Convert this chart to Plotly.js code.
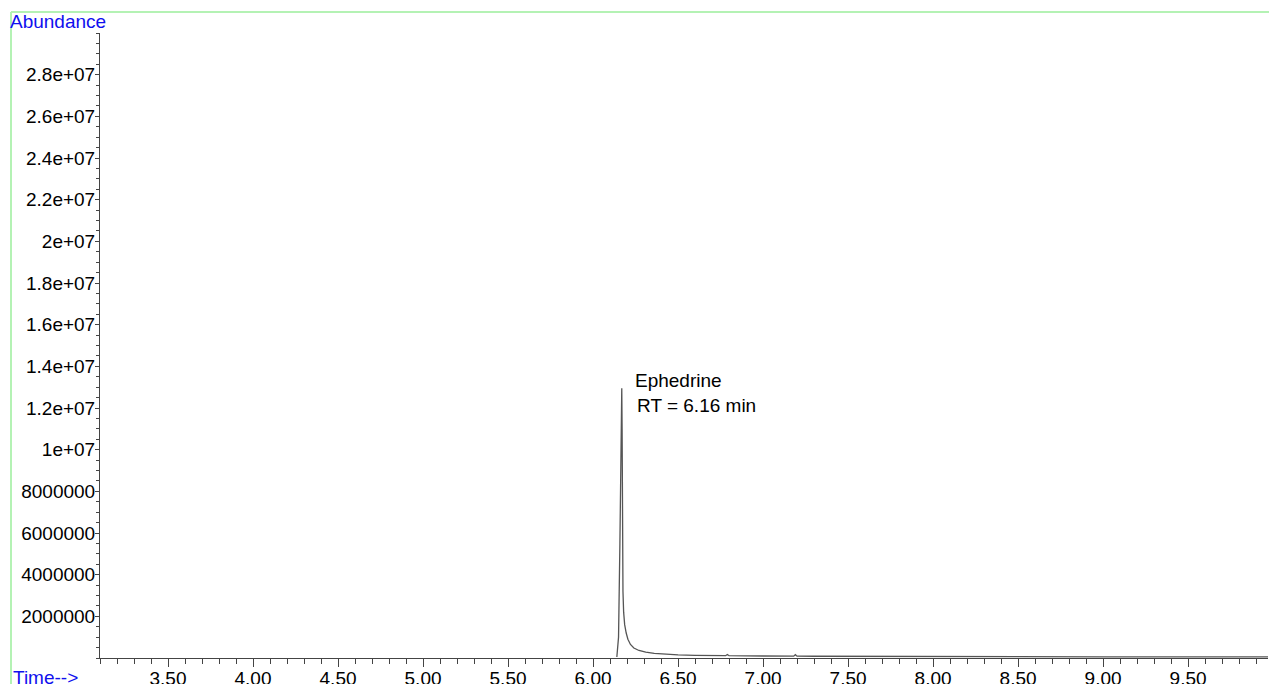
<!DOCTYPE html>
<html>
<head>
<meta charset="utf-8">
<script src="https://cdn.plot.ly/plotly-3.0.1.min.js"></script>
<style>
html,body{margin:0;padding:0;background:#fff;}
#chart{width:1269px;height:684px;}
</style>
</head>
<body>
<div id="chart"></div>
<script>
// Retention time (min)
const timeMin = [6.140, 6.150, 6.158, 6.163, 6.167, 6.169, 6.171, 6.173, 6.176, 6.180, 6.186, 6.195, 6.205, 6.22, 6.24, 6.27, 6.31, 6.36, 6.42, 6.50, 6.60, 6.70, 6.78, 6.79, 6.80, 6.90, 7.00, 7.10, 7.18, 7.19, 7.20, 7.30, 7.45, 7.60, 7.80, 8.00, 8.30, 8.60, 9.00, 9.40, 9.80, 9.97];
// Abundance (counts)
const abundance = [50000, 1000000, 5500000, 10500000, 12600000, 12950000, 11000000, 6000000, 3200000, 2200000, 1600000, 1200000, 900000, 650000, 480000, 360000, 280000, 220000, 180000, 150000, 130000, 115000, 110000, 170000, 110000, 100000, 95000, 90000, 90000, 160000, 90000, 85000, 80000, 75000, 70000, 65000, 60000, 60000, 55000, 55000, 50000, 50000];
// Y tick labels
const yTickVals = [2000000, 4000000, 6000000, 8000000, 10000000, 12000000, 14000000, 16000000, 18000000, 20000000, 22000000, 24000000, 26000000, 28000000];
const yTickText = ["2000000", "4000000", "6000000", "8000000", "1e+07", "1.2e+07", "1.4e+07", "1.6e+07", "1.8e+07", "2e+07", "2.2e+07", "2.4e+07", "2.6e+07", "2.8e+07"];
const peakName = "Ephedrine";
const peakRT = "RT = 6.16 min";

const font = {family: "Liberation Sans, Arial, Helvetica, sans-serif", size: 19, color: "#000"};

const trace = {
  x: timeMin, y: abundance, type: "scatter", mode: "lines",
  line: {color: "#555", width: 1.3}, hoverinfo: "x+y"
};

const layout = {
  width: 1269, height: 684,
  margin: {l: 100, r: 1, t: 33, b: 26, pad: 0},
  paper_bgcolor: "#fff", plot_bgcolor: "#fff",
  showlegend: false,
  font: font,
  xaxis: {
    range: [3.1, 9.97], tickmode: "linear", tick0: 3.5, dtick: 0.5, tickformat: ".2f",
    ticks: "outside", ticklen: 8, tickwidth: 1, tickcolor: "#444",
    showline: true, linecolor: "#444", linewidth: 1, showgrid: false, zeroline: false,
    tickfont: font, ticklabelstandoff: -5,
    minor: {tickmode: "linear", tick0: 3.1, dtick: 0.1, ticks: "outside", ticklen: 5, tickwidth: 1, tickcolor: "#444", showgrid: false}
  },
  yaxis: {
    range: [0, 30000000], tickmode: "array", tickvals: yTickVals, ticktext: yTickText,
    ticks: "outside", ticklen: 4, tickwidth: 1, tickcolor: "#444",
    showline: true, linecolor: "#444", linewidth: 1, showgrid: false, zeroline: false,
    tickfont: font, ticklabelstandoff: -4,
    minor: {tickmode: "linear", tick0: 0, dtick: 500000, ticks: "outside", ticklen: 3, tickwidth: 1, tickcolor: "#444", showgrid: false}
  },
  annotations: [
    {text: peakName, x: 6.235, y: 13320000, xref: "x", yref: "y", xanchor: "left", yanchor: "middle", showarrow: false, font: font},
    {text: peakRT, x: 6.247, y: 12120000, xref: "x", yref: "y", xanchor: "left", yanchor: "middle", showarrow: false, font: font},
    {text: "Abundance", x: -0.0789, y: 1.0176, xref: "paper", yref: "paper", xanchor: "left", yanchor: "middle", showarrow: false, font: {family: font.family, size: 19, color: "#1010ee"}},
    {text: "Time-->", x: -0.0760, y: -0.0304, xref: "paper", yref: "paper", xanchor: "left", yanchor: "middle", showarrow: false, font: {family: font.family, size: 19, color: "#1010ee"}}
  ],
  shapes: [
    {type: "line", xref: "paper", yref: "paper", x0: -0.0762, x1: 1.01, y0: 1.0336, y1: 1.0336, line: {color: "#b4f2b4", width: 2}},
    {type: "line", xref: "paper", yref: "paper", x0: -0.0762, x1: -0.0762, y0: 1.0336, y1: -0.06, line: {color: "#b4f2b4", width: 2}}
  ]
};

Plotly.newPlot("chart", [trace], layout, {displayModeBar: false, staticPlot: true});
</script>
</body>
</html>
